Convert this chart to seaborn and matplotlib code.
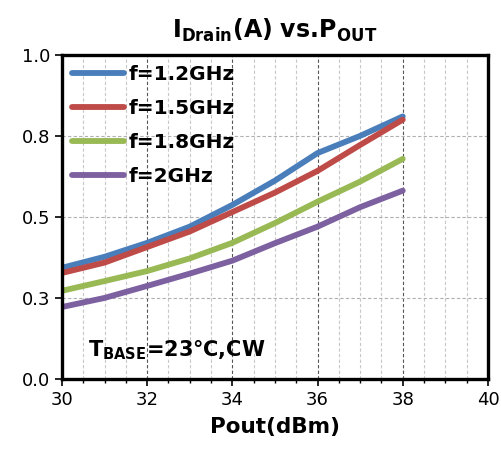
import numpy as np
import pandas as pd
import matplotlib
matplotlib.use("Agg")
import matplotlib.pyplot as plt
from matplotlib.ticker import MultipleLocator, FixedLocator
import seaborn as sns

# data
pout = [30, 31, 32, 33, 34, 35, 36, 37, 38]
i_12 = [0.343, 0.377, 0.420, 0.470, 0.537, 0.612, 0.697, 0.750, 0.810]
i_15 = [0.327, 0.359, 0.407, 0.455, 0.515, 0.575, 0.642, 0.722, 0.800]
i_18 = [0.272, 0.302, 0.333, 0.372, 0.420, 0.481, 0.547, 0.609, 0.679]
i_20 = [0.222, 0.250, 0.287, 0.325, 0.365, 0.419, 0.470, 0.530, 0.581]
series_names = ["f=1.2GHz", "f=1.5GHz", "f=1.8GHz", "f=2GHz"]
colors = ["#4A7EBB", "#BE4B48", "#98B954", "#7D60A0"]
y_ticks = [0.0, 0.25, 0.5, 0.75, 1.0]
y_tick_labels = ["0.0", "0.3", "0.5", "0.8", "1.0"]
x_ticks = [30, 32, 34, 36, 38, 40]

rows = []
for name, vals in zip(series_names, [i_12, i_15, i_18, i_20]):
    for x, y in zip(pout, vals):
        rows.append({"Pout": x, "Idrain": y, "series": name})
df = pd.DataFrame(rows)

sns.set_style("white")
plt.rcParams["font.family"] = ["DejaVu Sans"]
plt.rcParams["mathtext.fontset"] = "dejavusans"
plt.rcParams["mathtext.default"] = "bf"
plt.rcParams["text.color"] = "black"
plt.rcParams["axes.labelcolor"] = "black"
plt.rcParams["xtick.color"] = "black"
plt.rcParams["ytick.color"] = "black"

fig = plt.figure(figsize=(5.02, 4.61), dpi=100)
ax = fig.add_axes([0.1235, 0.178, 0.8485, 0.703])

sns.lineplot(data=df, x="Pout", y="Idrain", hue="series", palette=colors,
             hue_order=series_names, linewidth=4.2, ax=ax,
             solid_capstyle="round", solid_joinstyle="round")

ax.set_xlim(30, 40)
ax.set_ylim(0, 1.0)
ax.xaxis.set_major_locator(FixedLocator(x_ticks))
ax.xaxis.set_minor_locator(MultipleLocator(0.5))
ax.yaxis.set_major_locator(FixedLocator(y_ticks))
ax.set_yticklabels(y_tick_labels)

ax.grid(which="major", axis="x", color="#555555", linestyle=(0, (3, 2)), linewidth=0.8)
ax.grid(which="minor", axis="x", color="#c8c8c8", linestyle=(0, (3, 2)), linewidth=0.8)
ax.grid(which="major", axis="y", color="#b0b0b0", linestyle=(0, (3, 2)), linewidth=0.8)
ax.set_axisbelow(True)

for sp in ax.spines.values():
    sp.set_linewidth(2.4)
    sp.set_color("black")

ax.tick_params(axis="both", which="major", direction="out", length=5, width=1.2,
               labelsize=13, colors="black", bottom=True, left=True)
ax.tick_params(axis="x", which="minor", direction="out", length=3, width=1, bottom=True)

ax.set_xlabel("Pout(dBm)", fontsize=15.5, fontweight="bold", labelpad=6)
ax.set_ylabel("")
ax.set_title(r"$\mathbf{I_{Drain}(A)\ vs.\!P_{OUT}}$", fontsize=17, pad=12,
             color="black")

leg = ax.legend(loc="upper left", frameon=False, fontsize=14.5, handlelength=2.6,
                handletextpad=0.2, labelspacing=0.75, borderaxespad=0.1)
for t in leg.get_texts():
    t.set_fontweight("bold")
    t.set_color("black")
for h in leg.get_lines():
    h.set_linewidth(4.2)

ax.text(0.06, 0.09, r"$\mathbf{T_{BASE}}$=23℃,CW", transform=ax.transAxes,
        fontsize=15, fontweight="bold", ha="left", va="center", color="black")

fig.savefig("out.png", dpi=100)
